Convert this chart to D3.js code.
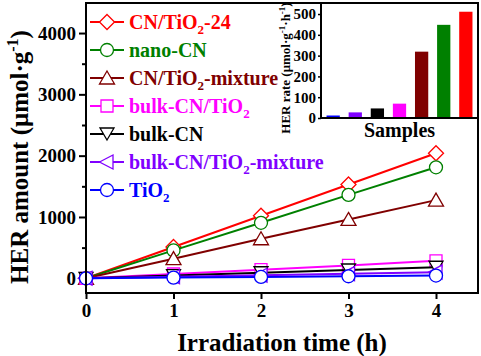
<!DOCTYPE html>
<html><head><meta charset="utf-8">
<script src="https://cdn.jsdelivr.net/npm/d3@7"></script>
<style>body{margin:0;background:#fff} text{font-family:"Liberation Serif","Times New Roman",serif;font-weight:bold}</style>
</head><body><svg id="c" width="481" height="356"></svg>
<script>
// ---- data ----
const hours = [0, 1, 2, 3, 4];
const seriesNames = ["CN/TiO2-24", "nano-CN", "CN/TiO2-mixture", "bulk-CN/TiO2", "bulk-CN", "bulk-CN/TiO2-mixture", "TiO2"];
const seriesColors = ["#ff0000", "#008000", "#800000", "#ff00ff", "#000000", "#8000ff", "#0000ff"];
const seriesSymbols = ["diamond", "circle", "triangle", "square", "triangleDown", "triangleLeft", "circle"];
const cnTiO2_24 = [0, 510, 1020, 1530, 2040];
const nanoCN = [0, 455, 905, 1360, 1810];
const cnTiO2Mix = [0, 320, 645, 960, 1275];
const bulkCnTiO2 = [0, 70, 140, 210, 285];
const bulkCN = [0, 45, 90, 135, 180];
const bulkCnTiO2Mix = [0, 25, 50, 75, 100];
const tio2 = [0, 11, 22, 33, 45];
const seriesValues = [cnTiO2_24, nanoCN, cnTiO2Mix, bulkCnTiO2, bulkCN, bulkCnTiO2Mix, tio2];
const rateSamples = ["TiO2", "bulk-CN/TiO2-mixture", "bulk-CN", "bulk-CN/TiO2", "CN/TiO2-mixture", "nano-CN", "CN/TiO2-24"];
const rates = [12, 27, 46, 69, 319, 448, 511];
const rateColors = ["#0000ff", "#8000ff", "#000000", "#ff00ff", "#800000", "#008000", "#ff0000"];
const xTicks = [0, 1, 2, 3, 4];
const yTicks = [0, 1000, 2000, 3000, 4000];
const yMinorTicks = [500, 1500, 2500, 3500];
const insetTicks = [0, 100, 200, 300, 400, 500];

// ---- layout ----
const svg = d3.select("#c");
const L = 86, R = 478, T = 3, B = 293;
const x = d3.scaleLinear().domain([0, 4.48]).range([L, R]);
const y = d3.scaleLinear().domain([-240, 4490]).range([B, T]);

function sym(type) {
  switch (type) {
    case "diamond": return "M0,-7.5L7.5,0L0,7.5L-7.5,0Z";
    case "circle": return "M6.5,0A6.5,6.5 0 1,1 -6.5,0A6.5,6.5 0 1,1 6.5,0Z";
    case "triangle": return "M0,-7L7.5,6L-7.5,6Z";
    case "square": return "M-6,-6H6V6H-6Z";
    case "triangleDown": return "M0,6L7,-6L-7,-6Z";
    case "triangleLeft": return "M-7.5,0L6,-7L6,7Z";
  }
}
function chemText(sel, label, subSize, dy) {
  const parts = label.split("O2");
  parts.forEach((p, i) => {
    if (i > 0) {
      sel.append("tspan").text("O");
      sel.append("tspan").attr("dy", dy).attr("font-size", subSize).text("2");
      sel.append("tspan").attr("dy", -dy).text(p);
    } else sel.append("tspan").text(p);
  });
}

// ---- main axes ----
const gx = svg.append("g").attr("transform", `translate(0,${B})`)
  .call(d3.axisBottom(x).tickValues(xTicks).tickSize(6).tickPadding(5).tickFormat(d3.format("d")));
const gy = svg.append("g").attr("transform", `translate(${L},0)`)
  .call(d3.axisLeft(y).tickValues(yTicks).tickSize(7).tickPadding(3).tickFormat(d3.format("d")));
svg.append("g").attr("transform", `translate(${L},0)`)
  .call(d3.axisLeft(y).tickValues(yMinorTicks).tickSize(4).tickFormat(""))
  .select(".domain").remove();
[gx, gy].forEach(g => {
  g.select(".domain").remove();
  g.selectAll(".tick text").attr("font-size", 19).attr("fill", "#000")
    .attr("font-family", '"Liberation Serif","Times New Roman",serif').attr("font-weight", "bold");
});
svg.selectAll(".tick line").attr("stroke", "#000").attr("stroke-width", 2);

// ---- series ----
const line = d3.line().x((d, i) => x(hours[i])).y(d => y(d));
seriesValues.forEach((vals, k) => {
  const g = svg.append("g");
  g.append("path").attr("d", line(vals)).attr("fill", "none")
    .attr("stroke", seriesColors[k]).attr("stroke-width", 2);
  g.selectAll("path.m").data(vals).join("path").attr("class", "m")
    .attr("d", sym(seriesSymbols[k]))
    .attr("transform", (d, i) => `translate(${x(hours[i])},${y(d)})`)
    .attr("fill", "#fff").attr("stroke", seriesColors[k]).attr("stroke-width", 1.3);
});

// frame
svg.append("rect").attr("x", L).attr("y", T).attr("width", R - L).attr("height", B - T)
  .attr("fill", "none").attr("stroke", "#000").attr("stroke-width", 2);

// ---- legend ----
seriesNames.forEach((name, k) => {
  const ly = 22 + k * 28;
  svg.append("line").attr("x1", 90).attr("x2", 124).attr("y1", ly).attr("y2", ly)
    .attr("stroke", seriesColors[k]).attr("stroke-width", 2);
  svg.append("path").attr("d", sym(seriesSymbols[k])).attr("transform", `translate(107,${ly})`)
    .attr("fill", "#fff").attr("stroke", seriesColors[k]).attr("stroke-width", 1.3);
  const t = svg.append("text").attr("x", 129).attr("y", ly + 7).attr("font-size", 20)
    .attr("fill", seriesColors[k]);
  chemText(t, name, 13, 5);
});

// ---- axis titles ----
svg.append("text").attr("x", (L + R) / 2).attr("y", 351).attr("text-anchor", "middle")
  .attr("font-size", 25).text("Irradiation time (h)");
const yl = svg.append("text").attr("transform", "translate(28,157) rotate(-90)")
  .attr("text-anchor", "middle").attr("font-size", 25);
yl.append("tspan").text("HER amount (μmol·g");
yl.append("tspan").attr("dy", -10).attr("font-size", 16).text("-1");
yl.append("tspan").attr("dy", 10).text(")");

// ---- inset ----
const iL = 321, iR = 478, iT = 3, iB = 118;
const ix = d3.scaleBand().domain(rateSamples).range([iL, iR]).paddingInner(0.4).paddingOuter(0.25);
const iy = d3.scaleLinear().domain([0, 553]).range([iB, iT]);
svg.append("rect").attr("x", iL).attr("y", iT).attr("width", iR - iL).attr("height", iB - iT).attr("fill", "#fff");
svg.selectAll("rect.bar").data(rates).join("rect").attr("class", "bar")
  .attr("x", (d, i) => ix(rateSamples[i])).attr("width", ix.bandwidth())
  .attr("y", d => iy(d)).attr("height", d => iB - iy(d))
  .attr("fill", (d, i) => rateColors[i]);
const giy = svg.append("g").attr("transform", `translate(${iL},0)`)
  .call(d3.axisLeft(iy).tickValues(insetTicks).tickSize(3).tickPadding(2).tickFormat(d3.format("d")));
giy.select(".domain").remove();
giy.selectAll(".tick line").attr("stroke", "#000").attr("stroke-width", 1.5);
giy.selectAll(".tick text").attr("font-size", 15).attr("fill", "#000")
  .attr("font-family", '"Liberation Serif","Times New Roman",serif').attr("font-weight", "bold");
svg.append("rect").attr("x", iL).attr("y", iT).attr("width", iR - iL).attr("height", iB - iT)
  .attr("fill", "none").attr("stroke", "#000").attr("stroke-width", 2);
svg.append("text").attr("x", (iL + iR) / 2).attr("y", 137).attr("text-anchor", "middle")
  .attr("font-size", 20).text("Samples");
const il = svg.append("text").attr("transform", "translate(290,68) rotate(-90)")
  .attr("text-anchor", "middle").attr("font-size", 13);
il.append("tspan").text("HER rate (μmol·g");
il.append("tspan").attr("dy", -5).attr("font-size", 9).text("-1");
il.append("tspan").attr("dy", 5).text("·h");
il.append("tspan").attr("dy", -5).attr("font-size", 9).text("-1");
il.append("tspan").attr("dy", 5).text(")");
</script></body></html>
